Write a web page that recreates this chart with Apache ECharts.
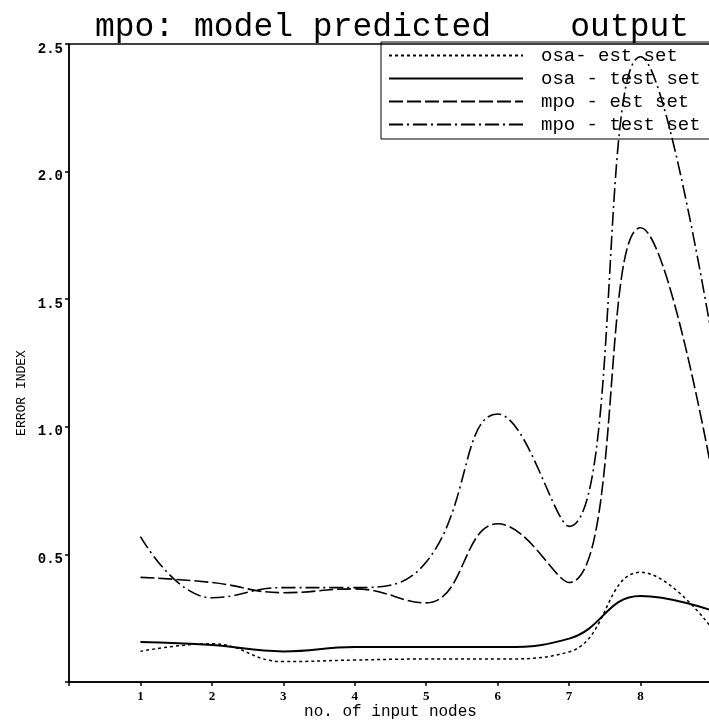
<!DOCTYPE html>
<html>
<head>
<meta charset="utf-8">
<script src="https://cdn.jsdelivr.net/npm/echarts@6/dist/echarts.min.js"></script>
<style>
  html, body { margin: 0; padding: 0; background: #fff; }
  #chart { width: 709px; height: 724px; }
</style>
</head>
<body>
<div id="chart"></div>
<script>
// input nodes on the x axis
const nodes = [1, 2, 3, 4, 5, 6, 7, 8, 9]

// error index per series
const osaEst = [0.12, 0.15, 0.08, 0.086, 0.09, 0.09, 0.118, 0.43, 0.21]
const osaTest = [0.157, 0.145, 0.12, 0.137, 0.137, 0.137, 0.17, 0.337, 0.28]
const mpoEst = [0.41, 0.39, 0.35, 0.365, 0.31, 0.62, 0.39, 1.78, 0.82]
const mpoTest = [0.57, 0.33, 0.37, 0.37, 0.47, 1.05, 0.61, 2.45, 1.35]

const seriesNames = ['osa- est set', 'osa - test set', 'mpo - est set', 'mpo - test set']
const yTicks = [0.5, 1.0, 1.5, 2.0, 2.5]

const mono = 'Liberation Mono'
const ink = '#000'

function pairs(values) {
  return nodes.map((x, i) => [x, values[i]])
}

function lineSeries(name, values, type, width) {
  return {
    name,
    type: 'line',
    data: pairs(values),
    smooth: 0.45,
    symbol: 'none',
    z: 5,
    lineStyle: { color: ink, width, type },
    itemStyle: { color: ink },
  }
}

const chart = echarts.init(document.getElementById('chart'))

chart.setOption({
  animation: false,
  title: {
    text: 'mpo: model predicted    output',
    left: 95,
    top: 11,
    padding: 0,
    textStyle: {
      fontFamily: mono,
      fontSize: 33,
      fontWeight: 'normal',
      color: ink,
      lineHeight: 33,
    },
  },
  grid: {
    left: 69,
    right: -3,
    top: 44,
    bottom: 42,
    containLabel: false,
    outerBoundsMode: 'none',
    show: true,
    borderColor: ink,
    borderWidth: 1.5,
  },
  legend: {
    orient: 'vertical',
    left: 381,
    top: 42,
    padding: [4, 60, 5, 7],
    itemGap: 4,
    itemWidth: 134,
    itemHeight: 19,
    borderColor: ink,
    borderWidth: 1,
    data: seriesNames,
    itemStyle: { opacity: 0 },
    textStyle: {
      fontFamily: mono,
      fontSize: 19,
      color: ink,
      padding: [0, 0, 0, 13],
    },
  },
  xAxis: {
    type: 'value',
    min: 0,
    max: 9,
    interval: 1,
    name: 'no. of input nodes',
    nameLocation: 'middle',
    nameGap: 22,
    nameMoveOverlap: false,
    nameTextStyle: { fontFamily: mono, fontSize: 16, color: ink },
    axisLine: { lineStyle: { color: ink, width: 1.5 } },
    axisTick: { length: 4, lineStyle: { color: ink, width: 1.5 } },
    axisLabel: {
      margin: 8,
      showMaxLabel: true,
      hideOverlap: false,
      fontFamily: 'Liberation Serif',
      fontWeight: 'bold',
      fontSize: 13,
      color: ink,
      formatter: v => (v === 0 ? '' : String(v)),
    },
    splitLine: { show: false },
  },
  yAxis: {
    type: 'value',
    min: 0,
    max: 2.5,
    interval: 0.5,
    axisLine: { show: true, lineStyle: { color: ink, width: 1.5 } },
    axisTick: { show: true, length: 4, lineStyle: { color: ink, width: 1.5 } },
    axisLabel: {
      margin: 6,
      fontFamily: mono,
      fontWeight: 'bold',
      fontSize: 14,
      color: ink,
      verticalAlign: 'top',
      padding: [-2, 0, 0, 0],
      formatter: v => (yTicks.includes(v) ? v.toFixed(1) : ''),
    },
    splitLine: { show: false },
  },
  graphic: [
    {
      type: 'text',
      x: 22,
      y: 393,
      rotation: Math.PI / 2,
      style: {
        text: 'ERROR INDEX',
        fontFamily: mono,
        fontSize: 13,
        fill: ink,
        align: 'center',
        verticalAlign: 'middle',
      },
    },
  ],
  series: [
    lineSeries(seriesNames[0], osaEst, [3, 3], 1.5),
    lineSeries(seriesNames[1], osaTest, 'solid', 2),
    lineSeries(seriesNames[2], mpoEst, [14, 4], 1.6),
    lineSeries(seriesNames[3], mpoTest, [14, 4, 2, 4], 1.6),
  ],
})
</script>
</body>
</html>
